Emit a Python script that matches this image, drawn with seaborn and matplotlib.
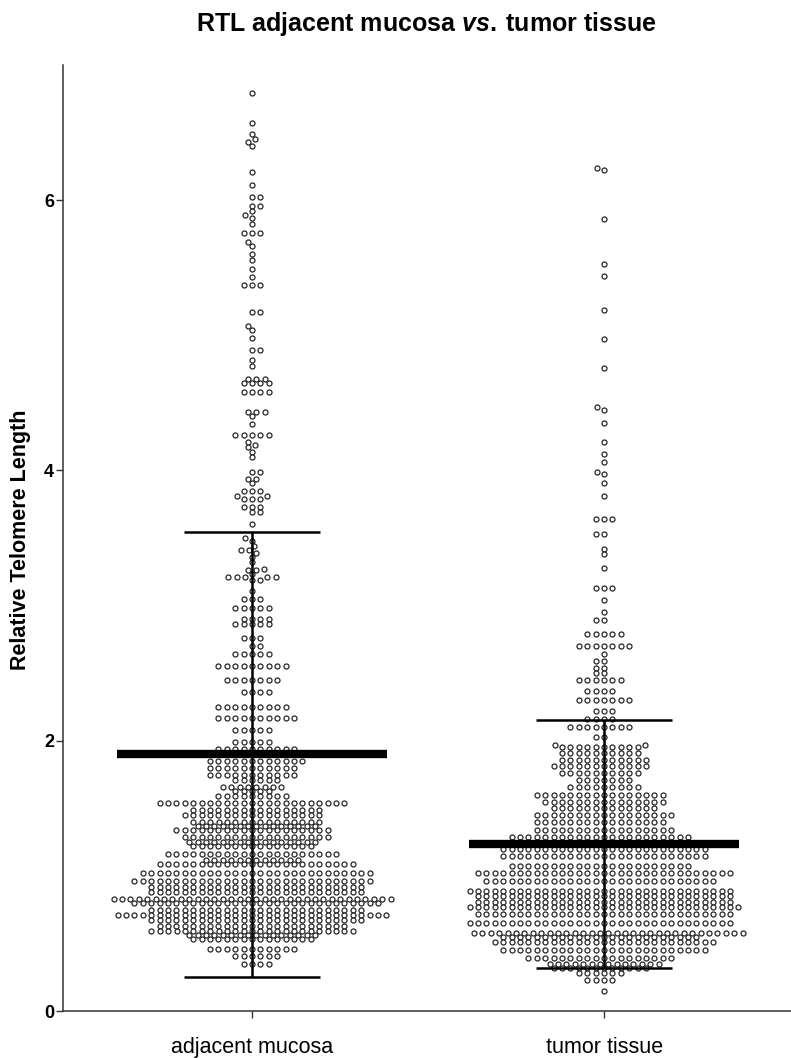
import numpy as np
import pandas as pd
import matplotlib
matplotlib.use("Agg")
import matplotlib.pyplot as plt
import seaborn as sns

# ---------------- data ----------------
categories = ["adjacent mucosa", "tumor tissue"]

adj_levels = [6.79, 6.57, 6.49, 6.45, 6.43, 6.40, 6.21, 6.11, 6.02, 5.96,
              5.92, 5.89, 5.87, 5.82, 5.76, 5.69, 5.66, 5.60, 5.56, 5.49,
              5.43, 5.37, 5.17, 5.07, 5.04, 4.98, 4.89, 4.82, 4.77, 4.68,
              4.65, 4.58, 4.43, 4.40, 4.34, 4.26, 4.21, 4.19, 4.17, 4.14,
              4.10, 3.99, 3.94, 3.91, 3.85, 3.81, 3.79, 3.73, 3.69, 3.60,
              3.50, 3.48, 3.44, 3.41, 3.39, 3.36, 3.32, 3.27, 3.26, 3.23,
              3.21, 3.19, 3.11, 3.05, 2.98, 2.90, 2.86, 2.76, 2.70, 2.64,
              2.55, 2.45, 2.36, 2.25, 2.17, 2.08, 1.99, 1.94, 1.90, 1.85,
              1.80, 1.75, 1.71, 1.66, 1.63, 1.59, 1.54, 1.49, 1.45, 1.40,
              1.37, 1.34, 1.29, 1.25, 1.22, 1.16, 1.12, 1.09, 1.02, 0.96,
              0.92, 0.88, 0.83, 0.80, 0.75, 0.71, 0.67, 0.63, 0.59, 0.56,
              0.53, 0.46, 0.41, 0.35]
adj_counts = [1, 1, 1, 1, 1, 1, 1, 1, 2, 2,
              1, 1, 1, 1, 3, 1, 1, 1, 1, 1,
              1, 3, 2, 1, 1, 1, 2, 1, 1, 3,
              4, 4, 3, 1, 1, 5, 1, 1, 1, 1,
              1, 2, 2, 1, 3, 2, 3, 3, 2, 1,
              1, 1, 1, 2, 1, 1, 1, 1, 2, 1,
              5, 2, 1, 3, 5, 4, 5, 3, 2, 5,
              9, 7, 4, 9, 10, 5, 5, 10, 11, 12,
              11, 11, 6, 8, 5, 9, 23, 16, 17, 16,
              15, 19, 18, 16, 15, 21, 12, 24, 28, 29,
              26, 26, 34, 30, 26, 33, 26, 23, 25, 16,
              15, 11, 6, 4]

tum_levels = [6.24, 6.22, 5.86, 5.53, 5.44, 5.19, 4.97, 4.76, 4.47, 4.45,
              4.35, 4.21, 4.12, 4.06, 3.99, 3.97, 3.91, 3.81, 3.64, 3.53,
              3.42, 3.38, 3.28, 3.13, 3.04, 2.95, 2.89, 2.79, 2.70, 2.64,
              2.59, 2.54, 2.50, 2.45, 2.37, 2.30, 2.22, 2.16, 2.10, 2.03,
              1.97, 1.95, 1.91, 1.86, 1.81, 1.76, 1.71, 1.66, 1.60, 1.55,
              1.50, 1.45, 1.40, 1.34, 1.29, 1.25, 1.20, 1.15, 1.07, 1.02,
              0.96, 0.89, 0.85, 0.81, 0.77, 0.72, 0.65, 0.58, 0.55, 0.51,
              0.45, 0.39, 0.35, 0.32, 0.28, 0.23, 0.15]
tum_counts = [1, 1, 1, 1, 1, 1, 1, 1, 1, 1,
              1, 1, 1, 1, 1, 1, 1, 1, 3, 2,
              1, 1, 1, 3, 1, 1, 2, 5, 7, 1,
              2, 2, 2, 6, 4, 7, 3, 4, 8, 2,
              2, 10, 10, 11, 12, 10, 7, 9, 16, 15,
              13, 17, 16, 17, 22, 22, 25, 25, 22, 31,
              28, 32, 31, 31, 33, 31, 32, 33, 24, 27,
              25, 18, 14, 12, 6, 4, 1]

group_mean = [1.90, 1.233]
group_sd = [1.645, 0.917]

y_ticks = [0, 2, 4, 6]
title_text = r"RTL adjacent mucosa $\it{vs.}\:$tumor tissue"
ylabel_text = "Relative Telomere Length"

# ---------------- table ----------------
values = np.concatenate([np.repeat(adj_levels, adj_counts),
                         np.repeat(tum_levels, tum_counts)])
groups = ([categories[0]] * int(np.sum(adj_counts)) +
          [categories[1]] * int(np.sum(tum_counts)))
df = pd.DataFrame({"group": groups, "RTL": values})

# ---------------- style ----------------
sns.set_theme(style="ticks")
plt.rcParams["font.family"] = ["Liberation Sans", "DejaVu Sans"]
plt.rcParams["mathtext.fontset"] = "custom"
plt.rcParams["mathtext.it"] = "Liberation Sans:italic:bold"
plt.rcParams["mathtext.rm"] = "Liberation Sans:bold"
plt.rcParams["mathtext.bf"] = "Liberation Sans:bold"
for k in ("text.color", "axes.labelcolor", "xtick.color", "ytick.color",
          "xtick.labelcolor", "ytick.labelcolor"):
    plt.rcParams[k] = "black"

W, H = 7.91, 10.58
STRETCH = 1.7  # taller canvas only while the swarm is laid out
fig = plt.figure(figsize=(W, H * STRETCH), dpi=100)
ax = fig.add_axes([63 / 791, 1 - 1011 / 1058, (791 - 63) / 791, (1011 - 65) / 1058])

EDGE = 0.9
sns.swarmplot(data=df, x="group", y="RTL", order=categories, ax=ax,
              color="white", edgecolor="#262626", linewidth=EDGE,
              size=4.86, warn_thresh=1.0, zorder=2)

ax.set_xlim(-0.537, 1.531)
ax.set_ylim(0, 7.0)

# lay the swarm out, then freeze positions and draw slightly smaller rings
fig.canvas.draw()
for coll in ax.collections:
    if "draw" in coll.__dict__:
        del coll.draw
    coll.set_sizes([3.6 ** 2])
fig.set_size_inches(W, H)

# mean and SD
xpos = np.arange(len(categories))
mean = np.array(group_mean)
sd = np.array(group_sd)
ax.hlines(mean, xpos - 0.383, xpos + 0.383, color="black", lw=6.0, zorder=4,
          capstyle="butt")
ax.vlines(xpos, mean - sd, mean + sd, color="black", lw=1.8, zorder=4)
ax.hlines(mean + sd, xpos - 0.193, xpos + 0.193, color="black", lw=1.8, zorder=4)
ax.hlines(mean - sd, xpos - 0.193, xpos + 0.193, color="black", lw=1.8, zorder=4)

# axes styling
sns.despine(ax=ax)
for s in ("left", "bottom"):
    ax.spines[s].set_linewidth(1.1)
    ax.spines[s].set_color("#333333")
ax.set_yticks(y_ticks)
ax.set_yticklabels([str(t) for t in y_ticks], fontsize=13, fontweight="bold")
ax.set_xticks(xpos)
ax.set_xticklabels(categories, fontsize=15.5)
ax.tick_params(axis="y", length=5, width=1.0, pad=1.5, color="#333333",
               labelcolor="black")
ax.tick_params(axis="x", length=5, width=1.0, pad=14, color="#333333",
               labelcolor="black")
ax.set_xlabel("")
ax.set_ylabel("")

fig.text(21 / 791, 1 - 540 / 1058, ylabel_text, rotation=90, ha="center",
         va="center", fontsize=15.5, fontweight="bold", color="black")
fig.text(426 / 791, 1 - 31.5 / 1058, title_text, ha="center", va="baseline",
         fontsize=18, fontweight="bold", color="black")

fig.savefig("out.png", dpi=100)
